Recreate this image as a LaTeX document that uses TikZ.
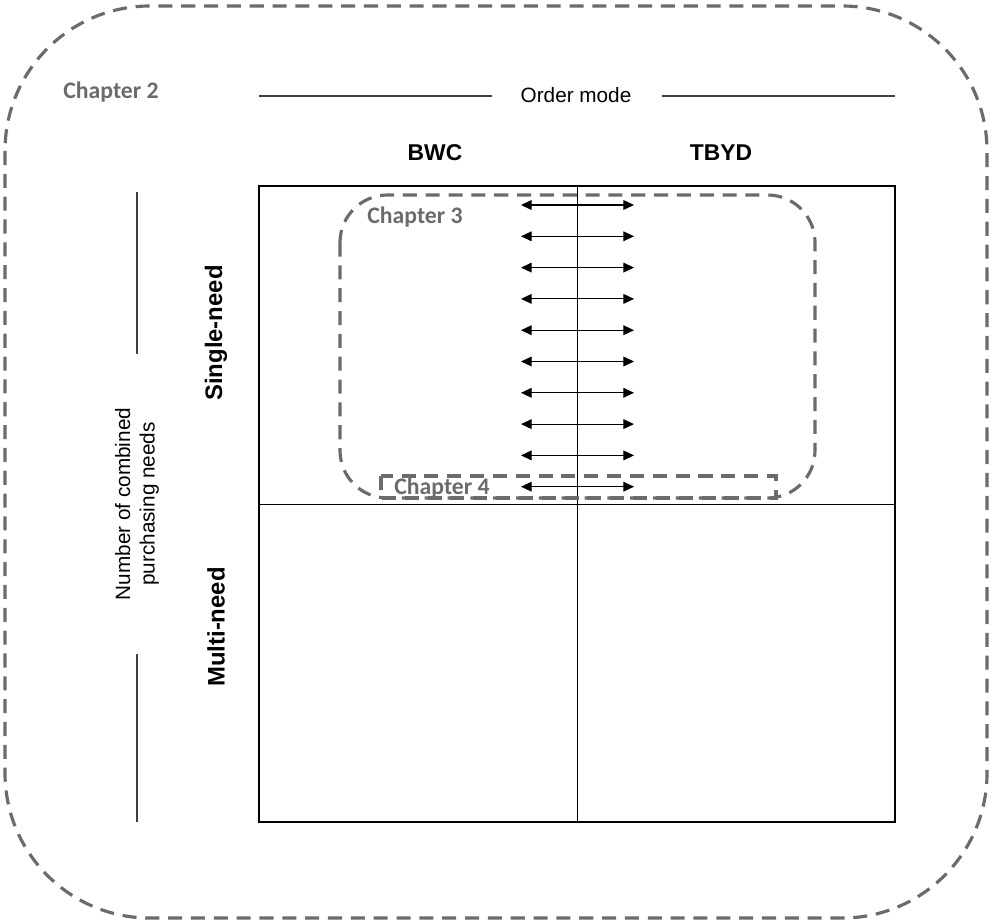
\documentclass[tikz,border=0pt]{standalone}
\usepackage{fontspec}
\setmainfont{Liberation Sans}
\newfontfamily\chapfont{Carlito}
\usetikzlibrary{arrows.meta}

\definecolor{chapgray}{HTML}{6B6B6B}

\tikzset{
  chapbox/.style={draw=chapgray, line width=1.8pt, dash pattern=on 8pt off 5pt},
  chaplabel/.style={text=chapgray, font=\chapfont\bfseries\fontsize{13.5}{16}\selectfont, inner sep=0pt},
  headlabel/.style={font=\bfseries\fontsize{13}{15}\selectfont, inner sep=0pt},
  axislabel/.style={font=\fontsize{11.8}{14}\selectfont, inner sep=0pt, align=center},
  axisline/.style={draw=black!75, line width=0.6pt},
  swap/.style={{Triangle[length=6pt,width=5.5pt]}-{Triangle[length=6pt,width=5.5pt]}, line width=0.6pt},
}

\begin{document}
\begin{tikzpicture}[x=0.02cm, y=-0.02cm]
    \useasboundingbox (0,0) rectangle (990,922);%

    % outer chapter
    \draw[chapbox, rounded corners=2.9cm] (5,6) rectangle (987,918);%
    \node[chaplabel] (ch2) at (111,92) {Chapter 2};%

    % order mode axis
    \node[axislabel] (order) at (576,95) {Order mode};%
    \draw[axisline] (259,96) -- (492,96) (662,96) -- (895,96);%
    \node[headlabel] (bwc) at (435,153) {BWC};%
    \node[headlabel] (tbyd) at (721,153) {TBYD};%

    % needs axis
    \node[axislabel, rotate=90] (needs) at (137,504) {Number of combined\\purchasing needs};%
    \draw[axisline] (137,192) -- (137,354) (137,654) -- (137,822);%
    \node[headlabel, font=\bfseries\fontsize{13.6}{16}\selectfont, rotate=90] (single) at (216,333) {Single-need};%
    \node[headlabel, font=\bfseries\fontsize{13.6}{16}\selectfont, rotate=90] (multi) at (216,627) {Multi-need};%

    % quadrants
    \draw[line width=1.1pt] (259,186) rectangle (895,822);%
    \draw[line width=0.5pt] (577,186) -- (577,822) (259,504) -- (895,504);%

    % inner chapters
    \draw[chapbox, rounded corners=0.95cm] (340,195) rectangle (815,498);%
    \node[chaplabel] (ch3) at (415,217) {Chapter 3};%
    \draw[chapbox] (381,476) rectangle (776,498);%
    \node[chaplabel] (ch4) at (442,488) {Chapter 4};%

    % switching arrows
    \foreach \i in {0,...,9} {%
      \coordinate (al\i) at (521,{205+31.3*\i});%
      \coordinate (ar\i) at (634,{205+31.3*\i});%
      \draw[swap] (al\i) -- (ar\i); }%
\end{tikzpicture}
\end{document}
